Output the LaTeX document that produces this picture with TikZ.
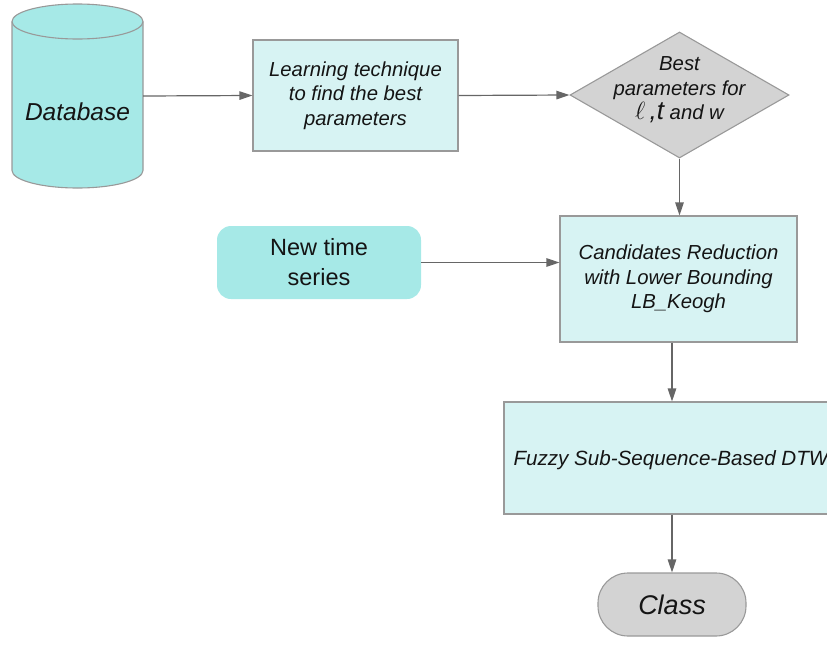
\documentclass[tikz,border=0pt]{standalone}
\usepackage{fontspec}
\setmainfont{Liberation Sans}
\usetikzlibrary{arrows.meta,shapes.geometric}
\definecolor{aqua}{HTML}{A6E9E7}
\definecolor{paleaqua}{HTML}{D7F3F3}
\definecolor{greyfill}{HTML}{D3D3D3}
\definecolor{edgegrey}{HTML}{999999}
\definecolor{wire}{HTML}{666666}
\definecolor{ink}{HTML}{141414}

\begin{document}
\begin{tikzpicture}[x=1pt,y=-1pt,
  outline/.style={draw=edgegrey,line width=1.1pt},
  box/.style={outline,fill=paleaqua,rectangle,inner sep=0pt},
  flow/.style={draw=wire,line width=1.2pt,-{Triangle[length=13pt,width=8.5pt]}},
  lbl/.style={font=\fontsize{20.3}{24.5}\selectfont\itshape,align=center,text=ink}]

\clip (0,0) rectangle (827,651);

% database cylinder
\draw[outline,fill=aqua] (12,21.5) -- (12,170.5)
  arc[start angle=180,end angle=360,x radius=65.5pt,y radius=17.5pt]
  -- (143,21.5)
  arc[start angle=0,end angle=180,x radius=65.5pt,y radius=17.5pt] -- cycle;
\draw[outline] (12,21.5) arc[start angle=180,end angle=360,x radius=65.5pt,y radius=17.5pt];
\node[minimum width=131pt,minimum height=184pt,inner sep=0pt] (db) at (77.5,96) {};
\node[lbl,font=\fontsize{24.5}{28}\selectfont\itshape] (dbtext) at (77.5,112) {Database};

% learning stage
\node[box,lbl,minimum width=205pt,minimum height=111pt] (learn) at (355.5,95.5)
  {Learning technique\\to find the best\\parameters};

% decision diamond
\node[diamond,outline,fill=greyfill,minimum width=219pt,minimum height=126pt,inner sep=0pt] (best) at (679.5,95) {};
\node[lbl] (besttext) at (679.5,90)
  {Best\\parameters for\\{\fontsize{26}{26}\selectfont$\ell$\,,t} and w};

% candidate reduction
\node[box,lbl,minimum width=237pt,minimum height=126pt] (cand) at (678.5,279)
  {Candidates Reduction\\with Lower Bounding\\LB\_Keogh};

% new input series
\node[fill=aqua,rounded corners=14pt,minimum width=204pt,minimum height=73pt,
  align=center,font=\fontsize{23.5}{30}\selectfont,text=ink] (new) at (319,262.5)
  {New time\\series};

% fuzzy DTW stage
\node[box,minimum width=346pt,minimum height=112pt] (fuzzy) at (677,458) {};
\node[lbl,anchor=west,font=\fontsize{20.6}{24}\selectfont\itshape] (fuzzytext) at (510,460)
  {Fuzzy Sub-Sequence-Based DTW};

% output class
\node[outline,fill=greyfill,rounded corners=30pt,minimum width=148pt,minimum height=63pt,
  font=\fontsize{27}{30}\selectfont\itshape,text=ink] (class) at (672,604.5) {Class};

% connectors
\draw[flow] (db.east) -- (learn.west);
\draw[flow] (learn.east) -- (best.west);
\draw[flow] (best.south) -- (best.south |- cand.north);
\draw[flow] (new.east) -- (new.east -| cand.west);
\draw[flow] (cand.south -| class.north) -- (class.north |- fuzzy.north);
\draw[flow] (fuzzy.south -| class.north) -- (class.north);
\end{tikzpicture}
\end{document}
